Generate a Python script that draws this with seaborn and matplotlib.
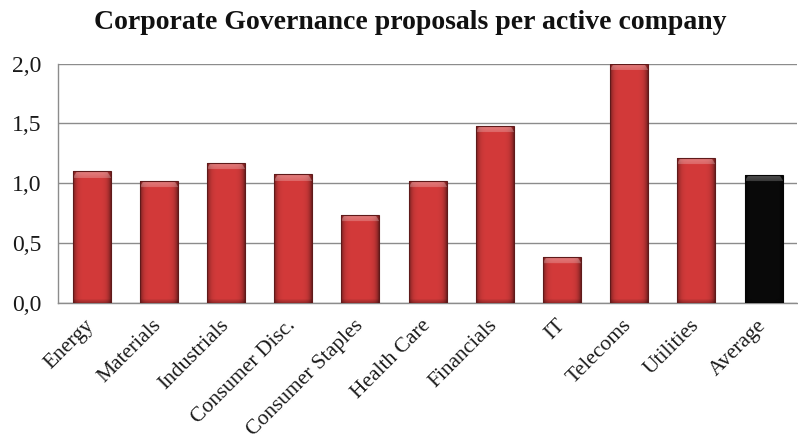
import numpy as np
import pandas as pd
import matplotlib
matplotlib.use("Agg")
import matplotlib.pyplot as plt
import matplotlib.colors as mcolors
import seaborn as sns

categories = ["Energy", "Materials", "Industrials", "Consumer Disc.", "Consumer Staples",
              "Health Care", "Financials", "IT", "Telecoms", "Utilities", "Average"]
values = [1.10, 1.02, 1.17, 1.075, 0.74, 1.02, 1.48, 0.385, 2.00, 1.21, 1.07]
bar_colors = ["#D33A3A"] * 10 + ["#0A0A0A"]
y_ticks = [0.0, 0.5, 1.0, 1.5, 2.0]

sns.set_theme(style="white")
plt.rcParams["font.family"] = ["Liberation Serif", "DejaVu Serif"]

df = pd.DataFrame({"sector": categories, "proposals": values})

fig = plt.figure(figsize=(7.98, 4.41), dpi=100)
ax = fig.add_axes([0.0727, 0.312, 0.9263, 0.544])

sns.barplot(data=df, x="sector", y="proposals", hue="sector",
            palette=dict(zip(categories, bar_colors)), legend=False,
            width=0.565, edgecolor="none", ax=ax, zorder=2)

ax.set_xlim(-0.5, len(categories) - 0.5)
ax.set_ylim(0, 2.0)

# bevelled shading on every bar: darker sides, lighter top chamfer
px_per_unit = 120.0
for patch, col in zip(ax.patches, bar_colors):
    x0, y0 = patch.get_x(), patch.get_y()
    w, h = patch.get_width(), patch.get_height()
    base = np.array(mcolors.to_rgb(col))
    ncols = 60
    nrows = max(int(h * px_per_unit), 2)
    u = np.linspace(-1, 1, ncols)
    side = 1.0 - 0.45 * np.abs(u) ** 6
    img = np.ones((nrows, ncols, 3)) * base
    img *= side[None, :, None]
    # bottom darkening
    v = np.linspace(0, 1, nrows)  # 0 at top, 1 at bottom
    img *= (1.0 - 0.25 * np.clip((v * nrows - (nrows - 4)) / 4, 0, 1))[:, None, None]
    # top chamfer highlight (trapezoid)
    bevel = 7
    for r in range(min(bevel, nrows)):
        inset = int((bevel - r) / bevel * 6)
        frac = 1.0 - r / bevel
        lighten = 0.35 if col != "#0A0A0A" else 0.30
        row = img[r, inset:ncols - inset]
        img[r, inset:ncols - inset] = row + (1 - row) * lighten * (0.6 + 0.4 * frac)
    img = np.clip(img, 0, 1)
    im = ax.imshow(img, extent=(x0, x0 + w, y0, y0 + h), aspect="auto",
                   origin="upper", zorder=3, interpolation="bilinear")
    im.set_clip_path(patch)
    ax.add_patch(plt.Rectangle((x0, y0), w, h, fill=False,
                               edgecolor=tuple(base * 0.45), linewidth=0.8, zorder=4))

ax.set_xlim(-0.5, len(categories) - 0.5)
ax.set_ylim(0, 2.0)

ax.set_yticks(y_ticks)
ax.set_yticklabels([f"{t:.1f}".replace(".", ",") for t in y_ticks], fontsize=17,
                   color="#1a1a1a")
ax.yaxis.grid(True, color="#8C8C8C", linewidth=1.0, zorder=0)
ax.set_axisbelow(True)

ax.set_xticks(range(len(categories)))
ax.set_xticklabels(categories, rotation=45, ha="right", va="center",
                   rotation_mode="anchor", fontsize=15.5, color="#1a1a1a")
ax.tick_params(axis="x", length=0, pad=14)
ax.tick_params(axis="y", length=0, pad=12)

for s in ["top", "right"]:
    ax.spines[s].set_visible(False)
for s in ["left", "bottom"]:
    ax.spines[s].set_color("#8C8C8C")
    ax.spines[s].set_linewidth(1.0)

ax.set_xlabel("")
ax.set_ylabel("")

fig.text(0.514, 0.95, "Corporate Governance proposals per active company",
         ha="center", va="center", fontsize=20, fontweight="bold", color="#111111")

fig.savefig("out.png", dpi=100, facecolor="white")
